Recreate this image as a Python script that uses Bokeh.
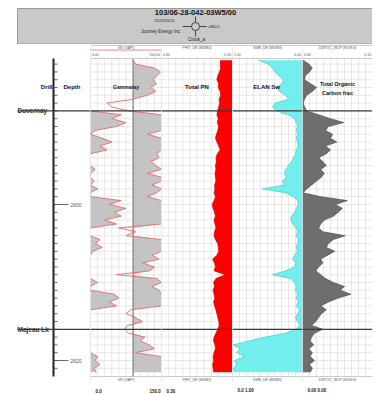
import numpy as np
from bokeh.plotting import figure
from bokeh.layouts import row, column
from bokeh.models import Range1d
from bokeh.core.properties import value
from bokeh.embed import file_html
from bokeh.resources import INLINE

# ---------------- data ----------------
WELL = "103/06-28-042-03W5/00"
DATE = "2019/03/14"
OPERATOR = "Journey Energy Inc"
ELEV = "+860.5"
SUB = "Crook_a"

DEPTH = [2581.5 + 0.5 * i for i in range(81)]

GR = [91, 95, 135, 148, 140, 132, 140, 128, 138, 120,
      90, 35, 45, 80, 215, 195, 225, 205, 160, 120,
      175, 195, 170, 185, 140, 145, 128, 138, 160, 120,
      150, 158, 130, 165, 140, 120, 215, 190, 225, 200,
      215, 180, 205, 60, 95, 75, 170, 160, 175, 155,
      130, 145, 110, 135, 125, 55, 140, 165, 130, 145,
      200, 210, 190, 205, 85, 75, 95, 110, 78, 72,
      80, 115, 105, 125, 135, 95, 165, 160, 170, 158, 162]

PHIT = [0.050, 0.052, 0.050, 0.055, 0.062, 0.066, 0.058, 0.060, 0.052, 0.050,
        0.056, 0.054, 0.058, 0.063, 0.066, 0.060, 0.064, 0.058, 0.062, 0.068,
        0.072, 0.066, 0.058, 0.052, 0.064, 0.070, 0.068, 0.072, 0.070, 0.074,
        0.072, 0.070, 0.076, 0.074, 0.078, 0.072, 0.078, 0.086, 0.082, 0.076,
        0.072, 0.078, 0.074, 0.070, 0.076, 0.078, 0.072, 0.062, 0.060, 0.058,
        0.066, 0.084, 0.076, 0.072, 0.078, 0.030, 0.070, 0.080, 0.076, 0.082,
        0.078, 0.074, 0.080, 0.076, 0.070, 0.066, 0.062, 0.058, 0.056, 0.062,
        0.070, 0.078, 0.080, 0.074, 0.072, 0.078, 0.082, 0.080, 0.084, 0.082, 0.080]

SWE = [0.63, 0.49, 0.43, 0.39, 0.34, 0.27, 0.29, 0.37, 0.33, 0.24,
       0.20, 0.39, 0.43, 0.37, 0.20, 0.11, 0.09, 0.07, 0.09, 0.07,
       0.09, 0.07, 0.06, 0.09, 0.10, 0.13, 0.16, 0.20, 0.24, 0.26,
       0.23, 0.29, 0.26, 0.57, 0.24, 0.13, 0.07, 0.06, 0.09, 0.11,
       0.16, 0.17, 0.14, 0.09, 0.07, 0.09, 0.06, 0.07, 0.09, 0.07,
       0.11, 0.14, 0.10, 0.11, 0.24, 0.43, 0.17, 0.11, 0.09, 0.10,
       0.07, 0.09, 0.06, 0.09, 0.04, 0.07, 0.10, 0.07, 0.04, 0.09,
       0.24, 0.53, 0.77, 0.99, 0.89, 0.94, 0.83, 0.97, 0.94, 0.99, 0.97]

TOC = [0.001, 0.009, 0.014, 0.010, 0.004, 0.003, 0.011, 0.020, 0.014, 0.006,
       0.003, 0.001, 0.003, 0.006, 0.023, 0.040, 0.059, 0.037, 0.033, 0.043,
       0.040, 0.049, 0.033, 0.040, 0.034, 0.023, 0.029, 0.034, 0.026, 0.031,
       0.027, 0.020, 0.013, 0.006, 0.001, 0.026, 0.064, 0.047, 0.057, 0.051,
       0.044, 0.031, 0.026, 0.023, 0.029, 0.061, 0.044, 0.037, 0.034, 0.046,
       0.036, 0.026, 0.029, 0.023, 0.019, 0.026, 0.033, 0.044, 0.060, 0.054,
       0.069, 0.051, 0.037, 0.026, 0.034, 0.027, 0.023, 0.019, 0.013, 0.029,
       0.017, 0.013, 0.011, 0.016, 0.009, 0.014, 0.011, 0.017, 0.010, 0.014, 0.011]

GR_CUTOFF = 90
TOPS_NAME = ["Duvernay", "Majeau Lk"]
TOPS_DEPTH = [2588.0, 2616.0]
DEPTH_LABELS = [2600, 2620]
MINOR_TICKS = list(range(2582, 2622))

TRACK_NAMES = ["Gammaray", "Total PN", "ELAN  Sw", "Total Organic"]
TRACK_MNEM = ["GR (GAPI)", "PHIT_DE (M3/M3)", "SWE_DE (M3/M3)", "DWTOC_WCP (KG/KG)"]
TRACK_LEFT = [0.0, 0.30, 1.00, 0.00]
TRACK_RIGHT = [150.0, 0.00, 0.00, 0.10]
SCALE_LEFT_TXT = ["0.00", "0.30", "1.00", "0.00"]
SCALE_RIGHT_TXT = ["150.00", "0.00", "0.00", "0.10"]
BOTTOM_LEFT_TXT = ["0.0", "0.30", "0.0  1.00", "0.00 0.00"]
BOTTOM_RIGHT_TXT = ["150.0", "", "", ""]

# ---------------- layout constants ----------------
FONT = value("Liberation Sans")
H_HDR = 44
H_TRACK = 350
PX_PER_M = 7.8


def d_of(y):  # window y -> depth
    return 2600 + (y - 204) / PX_PER_M


Y_TOP = d_of(H_HDR)
Y_BOT = d_of(H_HDR + H_TRACK)
G_TOP = d_of(58)
G_BOT = d_of(376)


def base_fig(width, xr, height=H_TRACK, yr=None):
    p = figure(width=width, height=height, x_range=xr,
               y_range=yr if yr is not None else Range1d(Y_BOT, Y_TOP),
               output_backend="svg", toolbar_location=None, min_border=0,
               x_axis_location=None, y_axis_location=None,
               outline_line_color=None, background_fill_color="white",
               border_fill_color="white")
    p.grid.visible = False
    return p


def tiny_text(p, x, y, t, size="3.5px", align="center", color="#555", style="normal"):
    p.text(x=[x], y=[y], text=[t], text_font=FONT, text_font_size=size,
           text_align=align, text_baseline="middle", text_color=color,
           text_font_style=style)


# ---------------- header ----------------
hdr = base_fig(372, Range1d(0, 372), height=H_HDR, yr=Range1d(0, H_HDR))
hdr.quad(left=[17], right=[372], bottom=[0.5], top=[36], fill_color="#c9c9c9",
         line_color="#9a9a9a", line_width=1)
tiny_text(hdr, 195, 32, WELL, size="7.5px", color="#111", style="bold")
tiny_text(hdr, 164, 24, DATE, size="4px", color="#222")
tiny_text(hdr, 160, 13, OPERATOR, size="4.5px", color="#222")
tiny_text(hdr, 207, 18, ELEV, size="4px", align="left", color="#222")
tiny_text(hdr, 196, 5, SUB, size="4.5px", color="#222")
hdr.segment(x0=[182, 199], y0=[18, 18], x1=[191, 206], y1=[18, 18], color="#222", line_width=0.8)
hdr.segment(x0=[195, 195], y0=[22, 8], x1=[195, 195], y1=[28, 14], color="#222", line_width=0.8)
hdr.scatter(x=[195], y=[18], marker="circle", size=8, fill_color="#c9c9c9",
            line_color="#222", line_width=0.8)

# ---------------- depth track ----------------
dp = base_fig(90, Range1d(0, 90))
dp.segment(x0=[53], y0=[G_TOP], x1=[53], y1=[G_BOT], color="#222", line_width=2)
dp.segment(x0=[53] * len(MINOR_TICKS), y0=MINOR_TICKS, x1=[57] * len(MINOR_TICKS),
           y1=MINOR_TICKS, color="#444", line_width=0.8)
dp.segment(x0=[53] * len(DEPTH_LABELS), y0=DEPTH_LABELS, x1=[68] * len(DEPTH_LABELS),
           y1=DEPTH_LABELS, color="#444", line_width=0.8)
dp.text(x=[70] * len(DEPTH_LABELS), y=DEPTH_LABELS, text=[str(v) for v in DEPTH_LABELS],
        text_font=FONT, text_font_size="5px", text_align="left", text_baseline="middle",
        text_color="#555")
dp.segment(x0=[17] * len(TOPS_DEPTH), y0=TOPS_DEPTH, x1=[90] * len(TOPS_DEPTH),
           y1=TOPS_DEPTH, color="#3a3a3a", line_width=1.3)
dp.text(x=[17] * len(TOPS_DEPTH), y=TOPS_DEPTH, text=TOPS_NAME, text_font=FONT,
        text_font_size="6.5px", text_font_style="bold", text_align="left",
        text_baseline="middle", text_color="#333")
tiny_text(dp, 52, d_of(86), "Drill", size="6px", align="right", color="#111", style="bold")
tiny_text(dp, 63, d_of(86), "Depth", size="6px", align="left", color="#111", style="bold")

# ---------------- curve tracks ----------------
widths = [71, 71, 70, 70]
figs = []
for i in range(4):
    lo, hi = TRACK_LEFT[i], TRACK_RIGHT[i]
    p = base_fig(widths[i], Range1d(lo, hi))
    xs = [lo + (hi - lo) * k / 10 for k in range(1, 10)]
    p.segment(x0=xs, y0=[G_TOP] * 9, x1=xs, y1=[G_BOT] * 9, color="#dcdcdc", line_width=0.7)
    p.segment(x0=[lo] * len(MINOR_TICKS), y0=MINOR_TICKS, x1=[hi] * len(MINOR_TICKS),
              y1=MINOR_TICKS, color="#dcdcdc", line_width=0.7)
    figs.append(p)

dep = np.array(DEPTH)
gr = np.array(GR, dtype=float)
n = len(gr)
wrap = np.where(gr > 150, gr - 150, np.nan)
for k in range(n):
    if gr[k] <= 150 and ((k > 0 and gr[k - 1] > 150) or (k < n - 1 and gr[k + 1] > 150)):
        wrap[k] = 0.0

pg = figs[0]
pg.harea(x1=GR_CUTOFF, x2=np.clip(gr, GR_CUTOFF, 150), y=dep, fill_color="#c4c4c4")
pg.harea(x1=0, x2=np.clip(gr - 150, 0, 150), y=dep, fill_color="#c4c4c4")
pg.segment(x0=[GR_CUTOFF], y0=[G_TOP], x1=[GR_CUTOFF], y1=[G_BOT], color="#8a8a8a", line_width=1.3)
pg.line(np.minimum(gr, 150), dep, color="#e46b6b", line_width=0.9)
pg.line(wrap, dep, color="#e46b6b", line_width=0.9)

pp = figs[1]
pp.harea(x1=0, x2=PHIT, y=dep, fill_color="#ff0000")
pp.line(PHIT, dep, color="#d00000", line_width=0.7)

ps = figs[2]
ps.harea(x1=0, x2=SWE, y=dep, fill_color="#72eeee")
ps.line(SWE, dep, color="#45caca", line_width=0.7)

pt = figs[3]
pt.harea(x1=0, x2=TOC, y=dep, fill_color="#6e6e6e")
pt.line(TOC, dep, color="#505050", line_width=0.7)

for i, p in enumerate(figs):
    lo, hi = TRACK_LEFT[i], TRACK_RIGHT[i]
    mid = (lo + hi) / 2
    span = hi - lo
    # borders
    p.segment(x0=[lo, lo, lo], y0=[d_of(45), G_TOP, G_BOT],
              x1=[hi, hi, hi], y1=[d_of(45), G_TOP, G_BOT],
              color="#bdbdbd", line_width=0.8)
    p.segment(x0=[lo, hi], y0=[d_of(45), d_of(45)], x1=[lo, hi], y1=[d_of(382), d_of(382)],
              color="#cfcfcf", line_width=1)
    # formation tops
    p.segment(x0=[lo] * len(TOPS_DEPTH), y0=TOPS_DEPTH, x1=[hi] * len(TOPS_DEPTH),
              y1=TOPS_DEPTH, color="#3a3a3a", line_width=1.3)
    # header rows
    tiny_text(p, mid, d_of(47.2), TRACK_MNEM[i])
    tiny_text(p, lo + span * 0.02, d_of(53.5), SCALE_LEFT_TXT[i], align="left")
    tiny_text(p, hi - span * 0.02, d_of(53.5), SCALE_RIGHT_TXT[i], align="right")
    tiny_text(p, mid, d_of(379), TRACK_MNEM[i])
    tiny_text(p, lo + span * (5 / 71), d_of(390), BOTTOM_LEFT_TXT[i], size="4.5px",
              align="left", color="#222", style="bold")
    if BOTTOM_RIGHT_TXT[i]:
        tiny_text(p, hi - span * 0.01, d_of(390), BOTTOM_RIGHT_TXT[i], size="4.5px",
                  align="right", color="#222", style="bold")

figs[0].segment(x0=[0], y0=[d_of(49.5)], x1=[150], y1=[d_of(49.5)], color="#f08a8a", line_width=1)

name_sizes = ["5px", "6px", "6px", "5.5px"]
for i, p in enumerate(figs):
    lo, hi = TRACK_LEFT[i], TRACK_RIGHT[i]
    mid = (lo + hi) / 2
    if i == 3:
        tiny_text(p, mid, d_of(83.5), "Total Organic", size="5.5px", color="#111", style="bold")
        tiny_text(p, mid, d_of(92.5), "Carbon frac", size="5.5px", color="#111", style="bold")
    else:
        tiny_text(p, mid, d_of(86), TRACK_NAMES[i], size=name_sizes[i], color="#111", style="bold")

layout = column(hdr, row(dp, *figs, spacing=0), spacing=0)
open("out.html", "w").write(file_html(layout, INLINE))
